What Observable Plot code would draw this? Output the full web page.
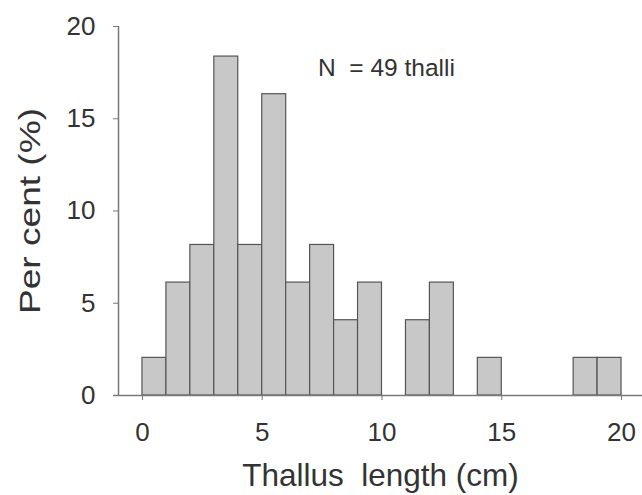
<!DOCTYPE html>
<html>
<head>
<meta charset="utf-8">
<script src="https://cdn.jsdelivr.net/npm/d3@7"></script>
<script src="https://cdn.jsdelivr.net/npm/@observablehq/plot@0.6"></script>
<style>
  html, body { margin: 0; padding: 0; background: #fff; }
  svg { display: block; }
</style>
</head>
<body>
<div id="chart"></div>
<script>
// Data (bins of 1 cm, per cent of N = 49 thalli)
const binStart = [0, 1, 2, 3, 4, 5, 6, 7, 8, 9, 10, 11, 12, 13, 14, 15, 16, 17, 18, 19];
const binEnd   = [1, 2, 3, 4, 5, 6, 7, 8, 9, 10, 11, 12, 13, 14, 15, 16, 17, 18, 19, 20];
const percent  = [2.04, 6.12, 8.16, 18.37, 8.16, 16.33, 6.12, 8.16, 4.08, 6.12, 0, 4.08, 6.12, 0, 2.04, 0, 0, 0, 2.04, 2.04];
const xTicks = [0, 5, 10, 15, 20];
const yTicks = [0, 5, 10, 15, 20];
const xLabel = "Thallus\u00a0 length (cm)";
const yLabel = "Per cent (%)";
const note = "N\u00a0 = 49 thalli";

const bins = binStart.map((s, i) => ({x1: s, x2: binEnd[i], pct: percent[i]})).filter(d => d.pct > 0);

const axisColor = "#7a7a7a";
const textColor = "#333";

const chart = Plot.plot({
  width: 642,
  height: 495,
  marginLeft: 118,
  marginRight: 0,
  marginTop: 26,
  marginBottom: 100,
  style: {fontFamily: "Liberation Sans, Arial, sans-serif", color: textColor, background: "#fff"},
  x: {domain: [-1, 20.875]},
  y: {domain: [0, 20]},
  marks: [
    Plot.rectY(bins, {x1: "x1", x2: "x2", y1: 0, y2: "pct", fill: "#c8c8c8", stroke: "#555", strokeWidth: 1.2}),
    Plot.ruleX([-1], {y1: 0, y2: 20, stroke: axisColor, strokeWidth: 1.5}),
    Plot.ruleY([0], {x1: -1.2, x2: 20.875, stroke: axisColor, strokeWidth: 1.5}),
    Plot.axisY({ticks: yTicks, tickSize: 5, tickPadding: 18, fontSize: 26, label: null, stroke: axisColor, fill: textColor}),
    Plot.axisX({ticks: xTicks, tickSize: 5, tickPadding: 22, fontSize: 26, label: null, stroke: axisColor, fill: textColor}),
    Plot.text([xLabel], {frameAnchor: "bottom", dy: 90, lineAnchor: "bottom", fontSize: 31.5, fill: textColor}),
    Plot.text([yLabel], {frameAnchor: "left", dx: -88, rotate: -90, textAnchor: "middle", fontSize: 30, fill: textColor}),
    Plot.text([note], {x: 7.33, y: 17.34, textAnchor: "start", lineAnchor: "bottom", fontSize: 24.5, fill: textColor})
  ]
});
// stretch the y-axis title to the reference's length
d3.select(chart).selectAll("text").filter(function () { return this.textContent === yLabel; })
  .attr("textLength", 206).attr("lengthAdjust", "spacingAndGlyphs");
document.getElementById("chart").appendChild(chart);
</script>
</body>
</html>
